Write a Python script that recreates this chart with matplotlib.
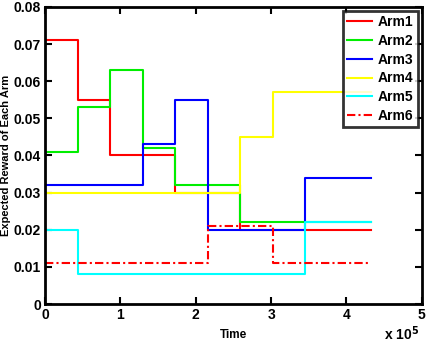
import numpy as np
import matplotlib
matplotlib.use("Agg")
import matplotlib.pyplot as plt

# segment edges (time) and expected reward per segment
edges = [0, 43200, 86400, 129600, 172800, 216000, 259200, 302400, 345600, 388800, 432000]
arm1 = [0.071, 0.055, 0.040, 0.040, 0.030, 0.030, 0.020, 0.020, 0.020, 0.020]
arm2 = [0.041, 0.053, 0.063, 0.042, 0.032, 0.032, 0.022, 0.022, 0.022, 0.022]
arm3 = [0.032, 0.032, 0.032, 0.043, 0.055, 0.020, 0.020, 0.020, 0.034, 0.034]
arm4 = [0.030, 0.030, 0.030, 0.030, 0.030, 0.030, 0.045, 0.057, 0.057, 0.057]
arm5 = [0.020, 0.008, 0.008, 0.008, 0.008, 0.008, 0.008, 0.008, 0.022, 0.022]
arm6 = [0.011, 0.011, 0.011, 0.011, 0.011, 0.021, 0.021, 0.011, 0.011, 0.011]

names = ["Arm1", "Arm2", "Arm3", "Arm4", "Arm5", "Arm6"]
colors = ["#ff0000", "#00ee00", "#0000ff", "#ffff00", "#00ffff", "#ff0000"]
styles = ["-", "-", "-", "-", "-", (0, (4, 1.5, 1, 1.5))]

plt.rcParams['font.family'] = ['Liberation Sans', 'DejaVu Sans']
plt.rcParams['font.weight'] = 'bold'

fig = plt.figure(figsize=(4.26, 3.44), dpi=100)
ax = fig.add_axes([0.106, 0.116, 0.884, 0.864])

for vals, name, c, ls in zip([arm1, arm2, arm3, arm4, arm5, arm6], names, colors, styles):
    ax.step(edges, vals + [vals[-1]], where='post', color=c, linestyle=ls, linewidth=1.5, label=name)

ax.set_xlim(0, 5e5)
ax.set_ylim(0, 0.08)
ax.set_xticks(np.arange(0, 6) * 1e5)
ax.set_xticklabels([str(i) for i in range(6)])
ax.set_yticks(np.arange(0, 0.09, 0.01))
ax.set_yticklabels(["0"] + ["%.2f" % v for v in np.arange(0.01, 0.09, 0.01)])
ax.tick_params(direction='in', top=True, right=True, length=5, width=1.5, labelsize=10, pad=3)
for lab in ax.get_xticklabels() + ax.get_yticklabels():
    lab.set_fontweight('bold')
for s in ax.spines.values():
    s.set_linewidth(2)

ax.set_xlabel("Time", fontsize=8.5, fontweight='bold', labelpad=5)
ax.set_ylabel("Expected Reward of Each Arm", fontsize=8, fontweight='bold', labelpad=2)
fig.text(0.985, 0.004, r"x 10$^5$", ha='right', va='bottom', fontsize=10, fontweight='bold')

leg = ax.legend(loc='upper right', fontsize=10, frameon=True, fancybox=False,
                borderaxespad=0.3, handlelength=1.8, labelspacing=0.34, borderpad=0.3, handletextpad=0.4)
leg.get_frame().set_edgecolor('black')
leg.get_frame().set_linewidth(2)
for t in leg.get_texts():
    t.set_fontweight('bold')

plt.savefig("out.png", dpi=100)
